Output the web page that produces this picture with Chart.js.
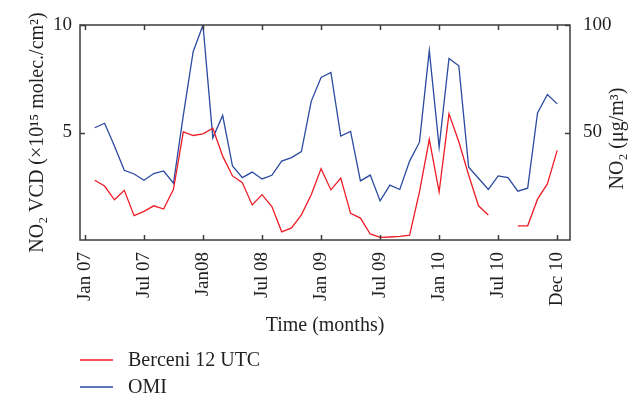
<!DOCTYPE html>
<html>
<head>
<meta charset="utf-8">
<script src="https://cdn.jsdelivr.net/npm/chart.js@4.4.1/dist/chart.umd.min.js"></script>
<style>
  html, body { margin: 0; padding: 0; background: #ffffff; }
  #wrap { position: relative; width: 634px; height: 394px; overflow: hidden; }
</style>
</head>
<body>
<div id="wrap"><canvas id="chart" width="634" height="394"></canvas></div>
<script>
// Month index counted from January 2007 (0 = Jan 07)
const monthIndex = [1, 2, 3, 4, 5, 6, 7, 8, 9, 10, 11, 12, 13, 14, 15, 16, 17, 18, 19, 20, 21, 22, 23, 24,
                    25, 26, 27, 28, 29, 30, 31, 32, 33, 34, 35, 36, 37, 38, 39, 40, 41, 42, 43, 44, 45, 46, 47, 48];

// OMI tropospheric NO2 vertical column density (x10^15 molec./cm^2)
const omiVcd = [5.22, 5.43, 4.37, 3.24, 3.07, 2.78, 3.09, 3.21, 2.64, 5.80, 8.76, 10.00,
                4.75, 5.79, 3.44, 2.90, 3.16, 2.84, 3.01, 3.67, 3.83, 4.11, 6.45, 7.56,
                7.79, 4.83, 5.05, 2.75, 3.02, 1.82, 2.55, 2.35, 3.67, 4.55, 8.81, 4.32,
                8.44, 8.10, 3.39, 2.87, 2.35, 2.98, 2.90, 2.27, 2.41, 5.91, 6.77, 6.33];

// Berceni station NO2 concentration at 12 UTC (µg/m^3); null = no measurement
const berceniNo2 = [27.8, 25.1, 18.7, 23.1, 11.3, 13.3, 15.9, 14.4, 23.6, 50.3, 48.6, 49.4,
                    52.0, 39.0, 29.8, 26.7, 16.3, 21.1, 15.6, 3.8, 5.6, 11.7, 21.0, 33.2,
                    23.3, 28.8, 12.4, 10.2, 2.8, 1.2, 1.4, 1.7, 2.3, 22.4, 46.8, 22.4,
                    58.7, 45.7, 30.2, 15.9, 11.6, null, null, 6.6, 6.6, 19.0, 26.1, 41.7];

// Time axis ticks
const tickMonths = [0, 6, 12, 18, 24, 30, 36, 42, 48];
const tickLabels = ['Jan 07', 'Jul 07', 'Jan08', 'Jul 08', 'Jan 09', 'Jul 09', 'Jan 10', 'Jul 10', 'Dec 10'];

// Value axis ticks
const vcdTicks = [5, 10];
const concTicks = [50, 100];

const SERIF = '"Liberation Serif", "Times New Roman", serif';
const INK = '#231f20';
const FRAME = '#3c3c3c';
const RED = '#ee1c25';
const BLUE = '#2b4aa0';

const toXY = (vals) => monthIndex.map((m, i) => ({ x: m, y: vals[i] }));

// Box frame with inward tick marks on all four sides, plus the right-hand title and legend
const framePlugin = {
  id: 'frameAndLegend',
  afterDraw(chart) {
    const { ctx, chartArea: a, scales } = chart;
    const tl = 5;
    ctx.save();
    ctx.strokeStyle = FRAME;
    ctx.lineWidth = 1.5;
    ctx.strokeRect(a.left, a.top, a.right - a.left, a.bottom - a.top);
    ctx.beginPath();
    tickMonths.forEach(m => {
      const x = Math.round(scales.x.getPixelForValue(m)) + 0.5;
      ctx.moveTo(x, a.bottom); ctx.lineTo(x, a.bottom - tl);
      ctx.moveTo(x, a.top); ctx.lineTo(x, a.top + tl);
    });
    vcdTicks.forEach(v => {
      const y = Math.round(scales.y.getPixelForValue(v)) + 0.5;
      ctx.moveTo(a.left, y); ctx.lineTo(a.left + tl, y);
    });
    concTicks.forEach(v => {
      const y = Math.round(scales.y1.getPixelForValue(v)) + 0.5;
      ctx.moveTo(a.right, y); ctx.lineTo(a.right - tl, y);
    });
    ctx.stroke();

    // right axis title, reading bottom to top
    ctx.fillStyle = INK;
    ctx.font = '20px ' + SERIF;
    ctx.translate(623, (a.top + a.bottom) / 2 + 6);
    ctx.rotate(-Math.PI / 2);
    ctx.textAlign = 'center';
    ctx.textBaseline = 'alphabetic';
    ctx.fillText('NO\u2082 (\u03BCg/m\u00B3)', 0, 0);
    ctx.restore();

    // legend
    ctx.save();
    ctx.font = '20px ' + SERIF;
    ctx.textAlign = 'left';
    ctx.textBaseline = 'alphabetic';
    ctx.lineWidth = 1.3;
    chart.data.datasets.forEach((ds, i) => {
      const ly = 360 + i * 27;
      ctx.strokeStyle = ds.borderColor;
      ctx.beginPath();
      ctx.moveTo(80, ly); ctx.lineTo(113, ly);
      ctx.stroke();
      ctx.fillStyle = INK;
      ctx.fillText(ds.label, 128, ly + 6);
    });
    ctx.restore();
  }
};

new Chart(document.getElementById('chart'), {
  type: 'line',
  data: {
    datasets: [
      {
        label: 'Berceni 12 UTC',
        data: toXY(berceniNo2),
        yAxisID: 'y1',
        borderColor: RED,
        borderWidth: 1.3,
        pointRadius: 0,
        fill: false,
        spanGaps: false,
        tension: 0
      },
      {
        label: 'OMI',
        data: toXY(omiVcd),
        yAxisID: 'y',
        borderColor: BLUE,
        borderWidth: 1.3,
        pointRadius: 0,
        fill: false,
        tension: 0
      }
    ]
  },
  options: {
    responsive: false,
    animation: false,
    events: [],
    layout: { padding: { top: 25, bottom: 54, left: 0, right: 0 } },
    plugins: { legend: { display: false }, tooltip: { enabled: false } },
    scales: {
      x: {
        type: 'linear',
        position: 'bottom',
        min: -0.5,
        max: 49.3,
        grid: { display: false },
        border: { display: false },
        afterBuildTicks(scale) { scale.ticks = tickMonths.map(v => ({ value: v })); },
        afterFit(scale) { scale.height = 100; },
        ticks: {
          autoSkip: false,
          minRotation: 90,
          maxRotation: 90,
          padding: 4,
          color: INK,
          font: { family: SERIF, size: 19 },
          callback(v) { const k = tickMonths.indexOf(v); return k >= 0 ? tickLabels[k] : ''; }
        },
        title: {
          display: true,
          text: 'Time (months)',
          color: INK,
          font: { family: SERIF, size: 20 },
          padding: { top: 0, bottom: 2 }
        }
      },
      y: {
        type: 'linear',
        position: 'left',
        min: 0,
        max: 10,
        grid: { display: false },
        border: { display: false },
        afterBuildTicks(scale) { scale.ticks = vcdTicks.map(v => ({ value: v })); },
        afterFit(scale) { scale.width = 80; },
        ticks: {
          padding: 0,
          color: INK,
          font: { family: SERIF, size: 19 }
        },
        title: {
          display: true,
          text: 'NO\u2082 VCD (\u00D710\u00B9\u2075 molec./cm\u00B2)',
          color: INK,
          font: { family: SERIF, size: 20 },
          padding: { top: 26, bottom: 0 }
        }
      },
      y1: {
        type: 'linear',
        position: 'right',
        min: 0,
        max: 100,
        grid: { display: false },
        border: { display: false },
        afterBuildTicks(scale) { scale.ticks = concTicks.map(v => ({ value: v })); },
        afterFit(scale) { scale.width = 64; },
        ticks: {
          padding: 5,
          color: INK,
          font: { family: SERIF, size: 19 }
        }
      }
    }
  },
  plugins: [framePlugin]
});
</script>
</body>
</html>
